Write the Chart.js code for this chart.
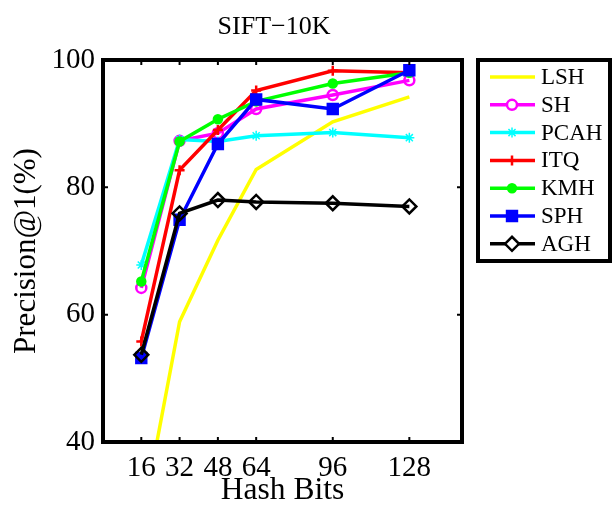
<!DOCTYPE html>
<html>
<head>
<meta charset="utf-8">
<script src="https://cdn.jsdelivr.net/npm/chart.js@4.4.1/dist/chart.umd.min.js"></script>
<style>
  html, body { margin: 0; padding: 0; background: #fff; }
  #chart { display: block; }
</style>
</head>
<body>
<canvas id="chart" width="613" height="506"></canvas>
<script>
const hashBits = [16, 32, 48, 64, 96, 128];
const yTicks = [40, 60, 80, 100];
const methodNames = ['LSH', 'SH', 'PCAH', 'ITQ', 'KMH', 'SPH', 'AGH'];

const lsh  = [27.0, 58.9, 71.7, 82.8, 90.3, 94.2];
const sh   = [64.2, 87.3, 88.5, 92.3, 94.5, 96.8];
const pcah = [67.8, 87.5, 87.2, 88.1, 88.6, 87.8];
const itq  = [55.8, 82.7, 89.0, 95.2, 98.3, 98.0];
const kmh  = [65.2, 87.2, 90.7, 93.5, 96.3, 98.0];
const sph  = [53.2, 74.9, 86.8, 93.8, 92.3, 98.4];
const agh  = [53.7, 75.9, 78.0, 77.7, 77.5, 77.0];

const seriesValues = [lsh, sh, pcah, itq, kmh, sph, agh];
const seriesColors = ['#ffff00', '#ff00ff', '#00ffff', '#ff0000', '#00ff00', '#0000ff', '#000000'];
const markers = [
    { style: false, radius: 0, fill: false, bw: 2.5 },
    { style: 'circle', radius: 5, fill: false, bw: 2.5 },
    { style: 'star', radius: 5, fill: false, bw: 1.5 },
    { style: 'cross', radius: 5, fill: false, bw: 2.5 },
    { style: 'circle', radius: 4, fill: true, bw: 2.5 },
    { style: 'rect', radius: 7, fill: true, bw: 2.5 },
    { style: 'rectRot', radius: 7, fill: false, bw: 2.5 }
];

const serif = "'Liberation Serif', 'Times New Roman', serif";

const datasets = methodNames.map((name, i) => ({
    label: name,
    data: hashBits.map((b, j) => ({ x: b, y: seriesValues[i][j] })),
    borderColor: seriesColors[i],
    backgroundColor: markers[i].fill ? seriesColors[i] : '#ffffff',
    borderWidth: 3.5,
    pointStyle: markers[i].style,
    pointRadius: markers[i].radius,
    pointBorderWidth: markers[i].bw,
    pointBackgroundColor: markers[i].fill ? seriesColors[i] : 'rgba(0,0,0,0)',
    pointBorderColor: seriesColors[i],
    tension: 0,
    fill: false,
    order: methodNames.length - i
}));

// frame, inward ticks, title and boxed legend
const decorPlugin = {
    id: 'decor',
    afterDraw(chart) {
        const ctx = chart.ctx;
        const a = chart.chartArea;
        const xs = chart.scales.x, ys = chart.scales.y;
        ctx.save();
        ctx.strokeStyle = '#000';
        ctx.lineWidth = 2;
        hashBits.forEach(b => {
            const px = xs.getPixelForValue(b);
            ctx.beginPath();
            ctx.moveTo(px, a.bottom); ctx.lineTo(px, a.bottom - 5);
            ctx.moveTo(px, a.top); ctx.lineTo(px, a.top + 5);
            ctx.stroke();
        });
        yTicks.forEach(v => {
            const py = ys.getPixelForValue(v);
            ctx.beginPath();
            ctx.moveTo(a.left, py); ctx.lineTo(a.left + 5, py);
            ctx.moveTo(a.right, py); ctx.lineTo(a.right - 5, py);
            ctx.stroke();
        });
        ctx.lineWidth = 4;
        ctx.strokeRect(a.left, a.top, a.right - a.left, a.bottom - a.top);

        // title
        ctx.fillStyle = '#000';
        ctx.font = '26px ' + serif;
        ctx.textAlign = 'center';
        ctx.textBaseline = 'middle';
        ctx.fillText('SIFT\u221210K', 274, 27);

        // legend
        const lx = 478, ly = 60, lw = 132, lh = 201;
        ctx.fillStyle = '#fff';
        ctx.fillRect(lx, ly, lw, lh);
        ctx.lineWidth = 4;
        ctx.strokeStyle = '#000';
        ctx.strokeRect(lx, ly, lw, lh);
        ctx.font = '23px ' + serif;
        ctx.textAlign = 'left';
        methodNames.forEach((name, i) => {
            const y = 77 + i * 27.8;
            ctx.strokeStyle = seriesColors[i];
            ctx.lineWidth = 3.5;
            ctx.beginPath();
            ctx.moveTo(490, y); ctx.lineTo(535, y);
            ctx.stroke();
            if (markers[i].style) {
                ctx.fillStyle = markers[i].fill ? seriesColors[i] : '#fff';
                ctx.lineWidth = markers[i].bw;
                Chart.helpers.drawPoint(ctx, {
                    pointStyle: markers[i].style,
                    radius: markers[i].radius,
                    rotation: 0,
                    borderWidth: markers[i].bw
                }, 512, y);
            }
            ctx.fillStyle = '#000';
            ctx.fillText(name, 541, y + 1);
        });
        ctx.restore();
    }
};

new Chart(document.getElementById('chart').getContext('2d'), {
    type: 'line',
    data: { datasets: datasets },
    options: {
        responsive: false,
        animation: false,
        devicePixelRatio: 1,
        layout: { padding: { top: 60, right: 151, left: 8, bottom: 0 } },
        plugins: {
            legend: { display: false },
            title: { display: false },
            tooltip: { enabled: false }
        },
        scales: {
            x: {
                type: 'linear',
                min: 0,
                max: 150,
                afterBuildTicks: s => { s.ticks = hashBits.map(v => ({ value: v })); },
                afterFit: s => { s.height = 64; },
                grid: { display: false, drawTicks: false },
                border: { display: false },
                ticks: { color: '#000', padding: 9, font: { family: serif, size: 29 }, maxRotation: 0, autoSkip: false },
                title: { display: true, text: 'Hash Bits', color: '#000', padding: 0, font: { family: serif, size: 31.5, lineHeight: 1.0 } }
            },
            y: {
                min: 40,
                max: 100,
                afterBuildTicks: s => { s.ticks = yTicks.map(v => ({ value: v })); },
                afterFit: s => { s.width = 95; },
                grid: { display: false, drawTicks: false },
                border: { display: false },
                ticks: { color: '#000', padding: 8, font: { family: serif, size: 29 } },
                title: { display: true, text: 'Precision@1(%)', color: '#000', padding: 0, font: { family: serif, size: 31 } }
            }
        }
    },
    plugins: [decorPlugin]
});
</script>
</body>
</html>
